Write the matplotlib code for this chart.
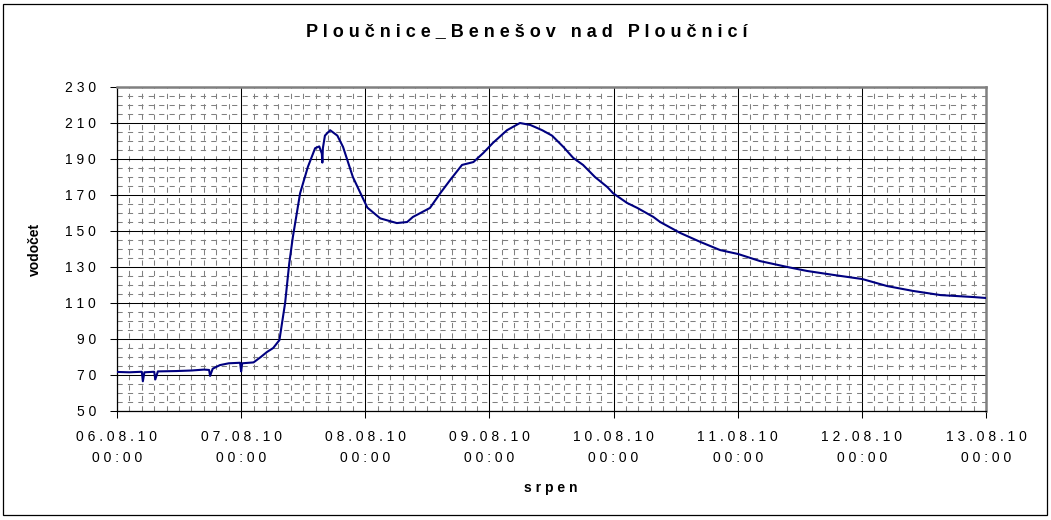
import matplotlib
matplotlib.use("Agg")
import matplotlib.pyplot as plt
import matplotlib.dates as mdates
from matplotlib.ticker import MultipleLocator, FuncFormatter
from matplotlib.patches import Rectangle
import pandas as pd

plt.rcParams['font.family'] = ['Liberation Sans', 'DejaVu Sans']

# ---- data ----
start = "2010-08-06 00:00"
hours = [0, 2.4, 4.8, 5.0, 5.3, 7.2, 7.4, 7.9, 11.5, 14.4, 16.8, 17.8, 18.0, 18.5,
         19.9, 21.6, 23.8, 24.0, 24.2, 26.4, 27.8, 29.0, 30.2, 31.4, 32.5, 33.3,
         34.0, 35.4, 36.9, 38.3, 39.1, 39.6, 39.7, 39.8, 40.2, 41.2, 42.6, 43.7,
         45.6, 47.4, 48.4, 50.9, 54.1, 56.1, 57.2, 58.0, 60.5, 62.5, 64.4, 66.7,
         68.9, 70.8, 72.7, 75.4, 77.9, 79.9, 82.2, 84.1, 86.3, 88.2, 90.1, 92.4,
         94.8, 95.9, 98.6, 100.6, 103.7, 105.0, 108.9, 112.8, 116.6, 120.1, 124.3,
         129.6, 133.4, 138.5, 144.1, 148.9, 153.9, 159.2, 165.6, 167.9]
vodocet = [71.7, 71.5, 71.8, 66.5, 71.5, 71.8, 67.5, 72.0, 72.2, 72.5, 73.0, 72.8,
           69.5, 73.5, 75.5, 76.5, 76.8, 72.0, 76.5, 77.0, 80.0, 82.8, 85.0, 89.4,
           110, 132, 146.7, 171, 185.6, 196, 197, 193, 188, 196, 203, 206, 203,
           196.7, 180, 169, 163, 157, 154.4, 155, 157.8, 159, 162.8, 171, 178.3,
           186.7, 188.3, 193.3, 199, 206, 210, 208.9, 206, 203, 196.7, 190.6,
           186.7, 180, 174.4, 171, 165.6, 162.8, 157.8, 155, 148.9, 143.9, 139.4,
           137.2, 133.3, 130, 127.8, 125.6, 123.3, 119.4, 116.7, 114.4, 113.3, 112.8]
x_start = "2010-08-06"
x_end = "2010-08-13"
y_ticks = [50, 70, 90, 110, 130, 150, 170, 190, 210, 230]
title = "Ploučnice_Benešov nad Ploučnicí"
xlabel = "srpen"
ylabel = "vodočet"

times = pd.Timestamp(start) + pd.to_timedelta(hours, unit="h")


def spaced(s, sep=" "):
    return sep.join(s)


W, H = 1051, 520
fig = plt.figure(figsize=(W / 100, H / 100), dpi=100)
ax = fig.add_axes([117 / W, 1 - 411 / H, (986 - 117) / W, (411 - 87) / H])

ax.plot(times, vodocet, color="#000080", lw=1.5, zorder=5)

ax.set_xlim(pd.Timestamp(x_start), pd.Timestamp(x_end))
ax.set_ylim(y_ticks[0], y_ticks[-1])
ax.set_yticks(y_ticks)
ax.yaxis.set_minor_locator(MultipleLocator(5))
ax.xaxis.set_major_locator(mdates.DayLocator())
ax.xaxis.set_minor_locator(MultipleLocator(0.1))

ax.xaxis.set_major_formatter(FuncFormatter(
    lambda v, p: spaced(mdates.num2date(v).strftime("%d.%m.%y")) + "\n" +
    spaced(mdates.num2date(v).strftime("%H:%M"))))
ax.yaxis.set_major_formatter(FuncFormatter(lambda v, p: spaced("%d" % v)))

ax.grid(which="major", color="black", lw=0.75, zorder=1)
ax.grid(which="minor", color="#808080", lw=0.75, linestyle=(0, (5, 5)), zorder=0)

ax.tick_params(which="major", direction="out", length=5, width=0.75,
               labelsize=10, color="black")
ax.tick_params(axis="y", which="major", pad=10)
ax.tick_params(axis="x", which="major", pad=9)
ax.tick_params(which="minor", length=0)
for lab in ax.get_xticklabels():
    lab.set_linespacing(1.6)

for s in ("top", "right"):
    ax.spines[s].set_color("#808080")
    ax.spines[s].set_linewidth(1.8)
for s in ("left", "bottom"):
    ax.spines[s].set_color("black")
    ax.spines[s].set_linewidth(0.9)

fig.text(527 / W, 1 - 32 / H, spaced(title), ha="center", va="center",
         fontsize=13, fontweight="bold")
fig.text(35 / W, 1 - 249 / H, ylabel, ha="center", va="center", rotation=90,
         fontsize=10, fontweight="bold")
fig.text(551 / W, 1 - 488 / H, spaced(xlabel), ha="center", va="center",
         fontsize=10, fontweight="bold")

fig.patches.append(Rectangle((3 / W, 1 - 515 / H), 1044 / W, 511 / H,
                             transform=fig.transFigure, fill=False,
                             edgecolor="black", lw=0.9))

fig.savefig("out.png", dpi=100)
